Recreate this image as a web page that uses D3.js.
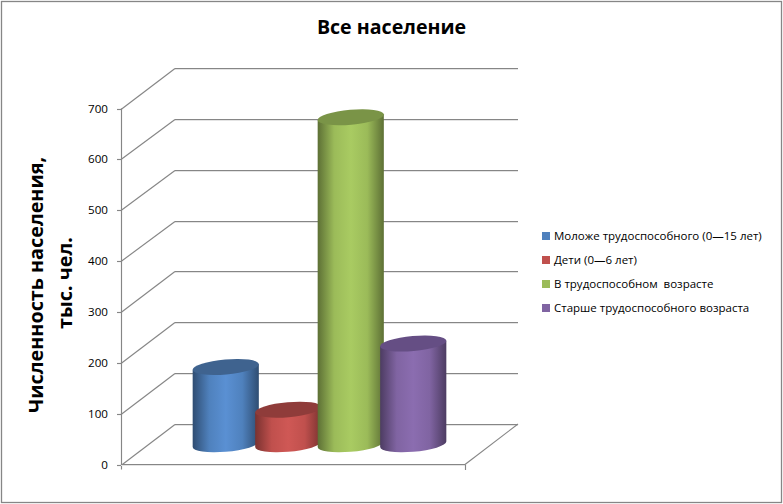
<!DOCTYPE html>
<html><head><meta charset="utf-8">
<script src="https://cdn.jsdelivr.net/npm/d3@7"></script>
<style>html,body{margin:0;padding:0;background:#fff}svg{display:block}text{font-family:"Open Sans","Noto Sans",sans-serif;fill:#000}</style>
</head><body><div id="c"></div>
<script>
const categories=["Моложе трудоспособного (0—15 лет)","Дети (0—6 лет)","В трудоспособном  возрасте","Старше трудоспособного возраста"];
const values=[152,68,643,198];
const colors=["#4f81bd","#c0504d","#9bbb59","#8064a2"];
const shades=["#2f4d72","#7a3230","#5d7035","#4d3c62"];
const lights=["#5a90d3","#cf5855","#a9cb62","#8b6db0"];
const tops=["#3f638f","#8f3c3a","#7a9447","#654e84"];
const ticks=[0,100,200,300,400,500,600,700];
const W=783,H=504;
const dy=-40.5;
const y=d3.scaleLinear().domain([0,700]).range([464.5,108.5]);
const x=d3.scaleBand().domain(categories).range([194.5,444.5]);
const rx=33.2,ry=7.5,tilt=5;
const svg=d3.select("#c").append("svg").attr("width",W).attr("height",H);
const defs=svg.append("defs");
categories.forEach((c,i)=>{
  const g=defs.append("linearGradient").attr("id","g"+i);
  g.append("stop").attr("offset","0%").attr("stop-color",shades[i]);
  g.append("stop").attr("offset","25%").attr("stop-color",colors[i]);
  g.append("stop").attr("offset","50%").attr("stop-color",lights[i]);
  g.append("stop").attr("offset","75%").attr("stop-color",colors[i]);
  g.append("stop").attr("offset","100%").attr("stop-color",shades[i]);
});
svg.append("rect").attr("x",1.5).attr("y",1.5).attr("width",780).attr("height",501).attr("fill","#fff").attr("stroke","#868686").attr("stroke-width",1.3);
const axisC="#868686";
const line=(x1,y1,x2,y2,c=axisC,w=1.15)=>svg.append("line").attr("x1",x1).attr("y1",y1).attr("x2",x2).attr("y2",y2).attr("stroke",c).attr("stroke-width",w);
ticks.forEach(t=>{
  const yy=Math.round(y(t))+.5;
  const by=Math.round(y(t)+dy)+.5;
  line(175,by+1,518,by+1,"#e4e4e4",1);
  line(175,by,518,by);
  line(121,yy,175,by);
  line(117,yy,121,yy);
  svg.append("text").attr("x",108).attr("y",y(t)+4).attr("text-anchor","end").attr("font-size",11.6).text(t);
});
line(121.5,y(700),121.5,y(0)+5);
line(121,465.5,465,465.5,"#e4e4e4",1);
line(121,464.5,465,464.5);
line(465,464.5,518,424);
line(465.5,464.5,465.5,470);
const rad=tilt*Math.PI/180;
const ex=Math.hypot(rx*Math.cos(rad),ry*Math.sin(rad));
const ey=(rx*rx-ry*ry)*Math.sin(rad)*Math.cos(rad)/ex;
categories.forEach((c,i)=>{
  const cx=x(c)+x.bandwidth()/2, base=y(0)+dy/2, top=y(values[i])+dy/2;
  const G=svg.append("g");
  G.append("path").attr("d",`M${cx-ex},${top+ey}L${cx-ex},${base+ey}A${rx},${ry} ${-tilt} 0 0 ${cx+ex},${base-ey}L${cx+ex},${top-ey}Z`).attr("fill",`url(#g${i})`);
  G.append("ellipse").attr("rx",rx).attr("ry",ry).attr("fill",tops[i]).attr("transform",`translate(${cx},${top}) rotate(${-tilt})`);
});
svg.append("text").attr("x",391.5).attr("y",34).attr("text-anchor","middle").attr("font-size",19.6).attr("font-weight",700).text("Все население");
const yt=svg.append("g").attr("transform","translate(0,285) rotate(-90)").attr("text-anchor","middle").attr("font-size",19.8).attr("font-weight",700);
yt.append("text").attr("x",0).attr("y",43).text("Численность населения,");
yt.append("text").attr("x",2).attr("y",72).text("тыс. чел.");
const legendY=d3.scalePoint().domain(categories).range([236,308]);
const lg=svg.selectAll("g.l").data(categories).join("g").attr("class","l").attr("transform",c=>`translate(542,${legendY(c)})`);
lg.append("rect").attr("y",-4).attr("width",8).attr("height",8).attr("fill",(c,i)=>colors[i]);
lg.append("text").attr("x",12).attr("y",4).attr("font-size",11.5).style("white-space","pre").text(c=>c);
</script></body></html>
